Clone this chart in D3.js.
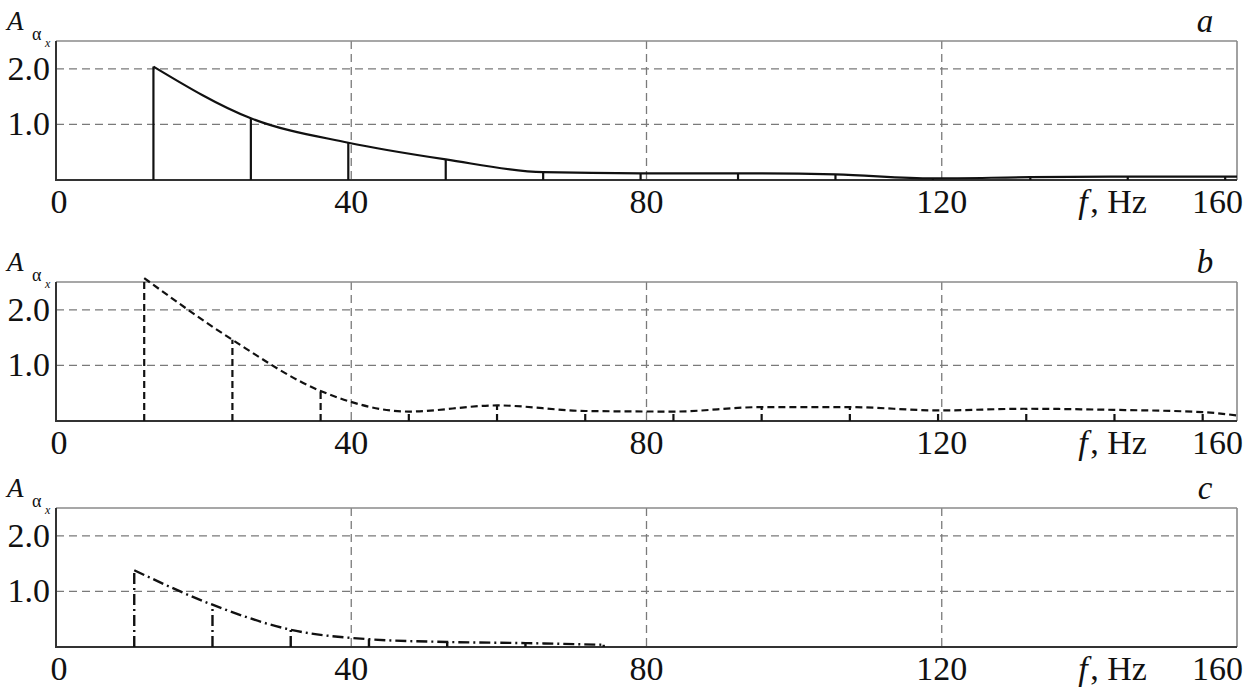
<!DOCTYPE html>
<html lang="en">
<head>
<meta charset="utf-8">
<script src="https://cdn.jsdelivr.net/npm/d3@7"></script>
</head>
<body>
<div id="chart"></div>
<script>
// axis ticks and labels
var xTicks = [0, 40, 80, 120, 160];
var xGrid = [40, 80, 120];
var yTicks = [1.0, 2.0];
var unitLabelAt = 142;   // "f, Hz" sits between 120 and 160
var panelLetters = ["a", "b", "c"];

// panel a: harmonics of ~13.2 Hz
var freqA = [13.2, 26.4, 39.6, 52.8, 66.0, 79.2, 92.4, 105.6, 118.8, 132.0, 145.2, 158.4];
var ampA  = [2.04, 1.11, 0.67, 0.37, 0.14, 0.12, 0.12, 0.10, 0.03, 0.05, 0.06, 0.06];
var endA  = [160, 0.06];

// panel b: harmonics of ~11.95 Hz
var freqB = [11.95, 23.9, 35.85, 47.8, 59.75, 71.7, 83.65, 95.6, 107.55, 119.5, 131.45, 143.4, 155.35];
var ampB  = [2.57, 1.46, 0.54, 0.17, 0.28, 0.18, 0.17, 0.25, 0.25, 0.19, 0.22, 0.20, 0.16];
var endB  = [160, 0.10];

// panel c: harmonics of ~10.6 Hz
var freqC = [10.6, 21.2, 31.8, 42.4, 53.0, 63.6, 74.2];
var ampC  = [1.38, 0.76, 0.31, 0.14, 0.09, 0.07, 0.04];
var endC  = null;

var fontName = "Liberation Serif";

// canvas
var W = 1250, H = 692;
var left = 56, right = 1237;
var panelTops = [41, 282, 508];
var panelHeight = 139;

d3.select("body").style("margin", "0px");

var svg = d3.select("#chart").append("svg")
  .attr("width", W)
  .attr("height", H)
  .attr("font-family", fontName);

var x = d3.scaleLinear().domain([0, 160]).range([left, right]);

// one entry per panel, built from the arrays above
var panels = [
  { freq: freqA, amp: ampA, end: endA, dash: null, width: 2.2 },
  { freq: freqB, amp: ampB, end: endB, dash: "7,4", width: 2.2 },
  { freq: freqC, amp: ampC, end: endC, dash: "11,4,2,4", width: 2.4 }
];

function label(px, py, size, txt, italic, anchor) {
  return svg.append("text")
    .attr("x", px).attr("y", py)
    .attr("font-family", fontName)
    .attr("font-size", size)
    .attr("font-style", italic ? "italic" : "normal")
    .attr("text-anchor", anchor || "start")
    .attr("fill", "#111")
    .text(txt);
}

panels.forEach(function(p, i) {
  var top = panelTops[i];
  var bottom = top + panelHeight;
  var y = d3.scaleLinear().domain([0, 2.5]).range([bottom, top]);
  var g = svg.append("g");

  // dashed grid
  g.selectAll(".hgrid").data(yTicks).enter().append("line")
    .attr("x1", left).attr("x2", right)
    .attr("y1", function(d) { return y(d); })
    .attr("y2", function(d) { return y(d); })
    .attr("stroke", "#7a7a7a").attr("stroke-width", 1.3)
    .attr("stroke-dasharray", "8,5");
  g.selectAll(".vgrid").data(xGrid).enter().append("line")
    .attr("x1", function(d) { return x(d); })
    .attr("x2", function(d) { return x(d); })
    .attr("y1", top).attr("y2", bottom)
    .attr("stroke", "#7a7a7a").attr("stroke-width", 1.3)
    .attr("stroke-dasharray", "8,5");

  // frame: grey top/right, dark left/bottom
  g.append("line").attr("x1", left).attr("x2", right).attr("y1", top).attr("y2", top)
    .attr("stroke", "#8a8a8a").attr("stroke-width", 1.6);
  g.append("line").attr("x1", right).attr("x2", right).attr("y1", top).attr("y2", bottom)
    .attr("stroke", "#8a8a8a").attr("stroke-width", 1.6);
  g.append("line").attr("x1", left).attr("x2", left).attr("y1", top).attr("y2", bottom + 1)
    .attr("stroke", "#333").attr("stroke-width", 2);
  g.append("line").attr("x1", left).attr("x2", right).attr("y1", bottom).attr("y2", bottom)
    .attr("stroke", "#333").attr("stroke-width", 2);

  // stems
  var pts = p.freq.map(function(f, k) { return [f, p.amp[k]]; });
  g.selectAll(".stem").data(pts).enter().append("line")
    .attr("x1", function(d) { return x(d[0]); })
    .attr("x2", function(d) { return x(d[0]); })
    .attr("y1", y(0))
    .attr("y2", function(d) { return y(d[1]); })
    .attr("stroke", "#111").attr("stroke-width", p.width)
    .attr("stroke-dasharray", p.dash);

  // envelope
  var linePts = p.end ? pts.concat([p.end]) : pts;
  var line = d3.line()
    .x(function(d) { return x(d[0]); })
    .y(function(d) { return y(d[1]); })
    .curve(d3.curveMonotoneX);
  g.append("path").datum(linePts)
    .attr("d", line)
    .attr("fill", "none")
    .attr("stroke", "#111").attr("stroke-width", p.width)
    .attr("stroke-dasharray", p.dash);

  // f axis labels, placed with the scale
  xTicks.forEach(function(t) {
    var anchor = t === 160 ? "end" : "middle";
    var dx = t === 160 ? 6 : (t === 0 ? 3 : 0);
    label(x(t) + dx, bottom + 33, 34, String(t), false, anchor);
  });
  label(x(unitLabelAt) - 26, bottom + 33, 34, "f", true);
  label(x(unitLabelAt) - 14, bottom + 33, 34, ", Hz", false);

  // amplitude axis labels
  yTicks.forEach(function(t) {
    label(left - 6, y(t) + 11, 34, d3.format(".1f")(t), false, "end");
  });

  // A with subscript alpha_x
  label(7, top - 11, 27, "A", true);
  label(32, top - 1, 18, "\u03b1", false);
  label(45, top + 6, 12, "x", true);

  // panel letter
  label(1205, top - 9, 33, panelLetters[i], true, "middle");
});
</script>
</body>
</html>
